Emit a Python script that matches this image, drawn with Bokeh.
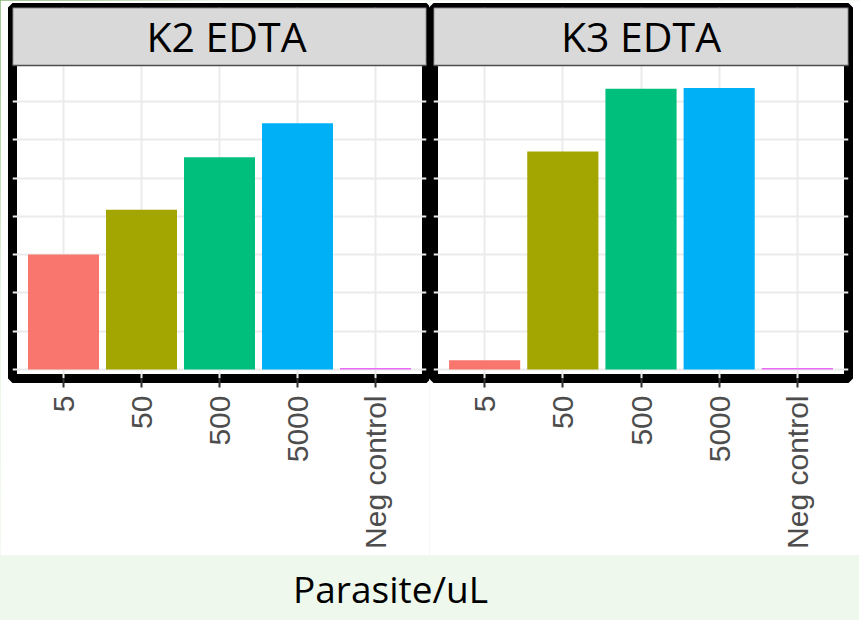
from math import pi

from bokeh.embed import file_html
from bokeh.layouts import column, row
from bokeh.models import (BoxAnnotation, ColumnDataSource, FactorRange, FixedTicker,
                          GlobalInlineStyleSheet, Label, Range1d)
from bokeh.plotting import figure
from bokeh.resources import INLINE

# ---- data (y in gridline units) ----
categories = ["5", "50", "500", "5000", "Neg control"]
bar_colors = ["#F8766D", "#A3A500", "#00BF7D", "#00B0F6", "#E76BF3"]
panel_titles = ["K2 EDTA", "K3 EDTA"]
k2_values = [3.00, 4.17, 5.54, 6.43, 0.04]
k3_values = [0.24, 5.69, 7.33, 7.35, 0.04]
grid_ticks = [0, 1, 2, 3, 4, 5, 6, 7, 8]
x_title = "Parasite/uL"

Y_BOTTOM, Y_TOP = -0.235, 9.452
STRIP_BOTTOM = 7.937
STRIP_TEXT_Y = 8.70


def make_panel(title, values, width, min_left, min_right, title_offset):
    src = ColumnDataSource(dict(cat=categories, val=values, col=bar_colors))
    p = figure(
        width=width, height=555,
        x_range=FactorRange(factors=categories, range_padding=0.154,
                            range_padding_units="absolute"),
        y_range=Range1d(Y_BOTTOM, Y_TOP),
        y_axis_location=None,
        toolbar_location=None, output_backend="svg",
        min_border_left=min_left, min_border_right=min_right,
        min_border_top=7, min_border_bottom=177,
    )
    p.background_fill_color = "white"
    p.border_fill_color = "white"
    p.outline_line_color = "black"
    p.outline_line_width = 9

    p.vbar(x="cat", top="val", width=0.91, fill_color="col", line_color=None,
           source=src)

    p.xgrid.grid_line_color = "#EBEBEB"
    p.xgrid.grid_line_width = 2
    p.ygrid.ticker = FixedTicker(ticks=grid_ticks)
    p.ygrid.grid_line_color = "#EBEBEB"
    p.ygrid.grid_line_width = 2

    ax = p.xaxis[0]
    ax.axis_line_color = None
    ax.major_tick_in = 0
    ax.major_tick_out = 9
    ax.major_tick_line_color = "#333333"
    ax.major_tick_line_width = 2
    ax.major_label_orientation = pi / 2
    ax.major_label_standoff = 8
    ax.major_label_text_font = "Liberation Sans"
    ax.major_label_text_font_size = "30px"
    ax.major_label_text_color = "#4D4D4D"

    strip = BoxAnnotation(bottom=STRIP_BOTTOM, fill_color="#D9D9D9", fill_alpha=1,
                          line_color="#4D4D4D", line_width=1.5, line_alpha=1)
    p.add_layout(strip)
    p.add_layout(Label(x=2.5, y=STRIP_TEXT_Y, x_offset=title_offset, text=title,
                       text_align="center", text_baseline="middle",
                       text_font="Open Sans", text_font_size="41px",
                       text_color="black"))
    return p


p1 = make_panel(panel_titles[0], k2_values, 429, 12, 3, 7)
p2 = make_panel(panel_titles[1], k3_values, 430, 4, 11, 0)

bottom = figure(width=859, height=65, x_range=Range1d(0, 859), y_range=Range1d(0, 65),
                toolbar_location=None, output_backend="svg",
                x_axis_location=None, y_axis_location=None,
                min_border=0)
bottom.grid.visible = False
bottom.outline_line_color = None
bottom.background_fill_color = "#EEF8EC"
bottom.border_fill_color = "#EEF8EC"
bottom.add_layout(Label(x=390, y=32, text=x_title, text_align="center",
                        text_baseline="middle", text_font="Open Sans",
                        text_font_size="37px", text_color="black"))

layout = column(row(p1, p2), bottom)
layout.stylesheets = [GlobalInlineStyleSheet(css=(
    "body { background: linear-gradient(125deg, #86B574 0px, #9CC58A 70px, "
    "#E3F2DD 170px, #EEF8EC 320px); }"))]

open("out.html", "w").write(file_html(layout, INLINE))
